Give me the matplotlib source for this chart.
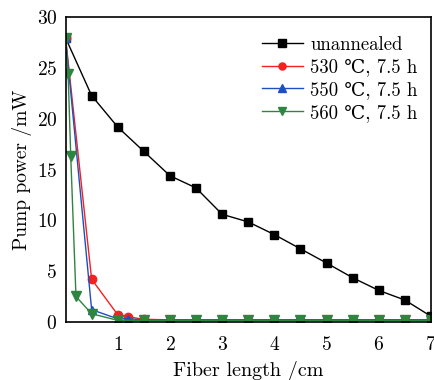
import matplotlib.pyplot as plt
import numpy as np

plt.rcParams['font.family'] = ['cmr10', 'DejaVu Serif']
plt.rcParams['axes.formatter.use_mathtext'] = True
plt.rcParams['mathtext.fontset'] = 'cm'

# data
x_un = [0, 0.5, 1, 1.5, 2, 2.5, 3, 3.5, 4, 4.5, 5, 5.5, 6, 6.5, 7]
y_un = [28, 22.3, 19.2, 16.8, 14.4, 13.2, 10.6, 9.85, 8.6, 7.2, 5.8, 4.35, 3.1, 2.15, 0.55]

x_530 = [0, 0.5, 1, 1.2, 1.5, 2, 2.5, 3, 3.5, 4, 4.5, 5, 5.5, 6, 6.5, 7]
y_530 = [28, 4.2, 0.7, 0.5, 0.25, 0.2, 0.2, 0.2, 0.2, 0.2, 0.2, 0.2, 0.2, 0.2, 0.2, 0.2]

x_550 = [0, 0.5, 1, 1.2, 1.5, 2, 2.5, 3, 3.5, 4, 4.5, 5, 5.5, 6, 6.5, 7]
y_550 = [28, 1.2, 0.3, 0.3, 0.2, 0.2, 0.2, 0.2, 0.2, 0.2, 0.2, 0.2, 0.2, 0.2, 0.2, 0.2]

x_560 = [0, 0.05, 0.1, 0.2, 0.5, 1, 1.5, 2, 2.5, 3, 3.5, 4, 4.5, 5, 5.5, 6, 6.5, 7]
y_560 = [28, 24.4, 16.3, 2.5, 0.8, 0.15, 0.15, 0.15, 0.15, 0.15, 0.15, 0.15, 0.15, 0.15, 0.15, 0.15, 0.15, 0.15]

fig = plt.figure(figsize=(4.34, 3.8), dpi=100)
ax = fig.add_axes([0.151, 0.153, 0.842, 0.801])

ax.plot(x_un, y_un, color='black', marker='s', markersize=6, lw=1.0, label='unannealed')
ax.plot(x_530, y_530, color='#f52020', marker='o', markersize=6, lw=1.0, label='530 ℃, 7.5 h')
ax.plot(x_550, y_550, color='#1f4fbf', marker='^', markersize=6, lw=1.0, label='550 ℃, 7.5 h')
ax.plot(x_560, y_560, color='#2e8540', marker='v', markersize=7, lw=1.0, label='560 ℃, 7.5 h')

ax.set_xlim(0, 7)
ax.set_ylim(0, 30)
ax.set_xticks([1, 2, 3, 4, 5, 6, 7])
ax.set_yticks([0, 5, 10, 15, 20, 25, 30])
ax.tick_params(length=0, labelsize=14, pad=10)
ax.tick_params(axis='y', pad=6)
for s in ax.spines.values():
    s.set_linewidth(1.2)

ax.set_xlabel('Fiber length /cm', fontsize=14.5, labelpad=5.5)
ax.set_ylabel('Pump power /mW', fontsize=14, labelpad=3)

ax.legend(loc='upper right', frameon=False, fontsize=13.5, handlelength=2.2,
          handletextpad=0.4, labelspacing=0.25, markerscale=0.85,
          bbox_to_anchor=(1.01, 0.995))

fig.savefig('out.png', dpi=100)
